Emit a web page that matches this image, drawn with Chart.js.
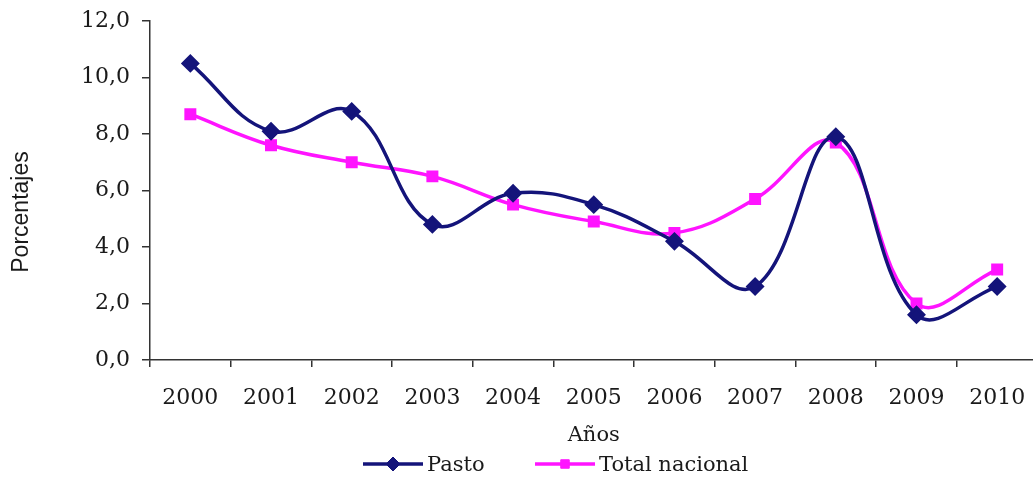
<!DOCTYPE html>
<html lang="es">
<head>
<meta charset="utf-8">
<title>Pasto vs Total nacional</title>
<script src="https://cdn.jsdelivr.net/npm/chart.js"></script>
<style>
  html, body { margin: 0; padding: 0; background: #fff; overflow: hidden; }
</style>
</head>
<body>
<canvas id="chart" width="1048" height="482" style="display:block;width:1048px;height:482px"></canvas>
<script>
const years = ['2000', '2001', '2002', '2003', '2004', '2005', '2006', '2007', '2008', '2009', '2010'];
const pasto = [10.5, 8.1, 8.8, 4.8, 5.9, 5.5, 4.2, 2.6, 7.9, 1.6, 2.6];
const totalNacional = [8.7, 7.6, 7.0, 6.5, 5.5, 4.9, 4.5, 5.7, 7.7, 2.0, 3.2];
const yTicks = [0, 2, 4, 6, 8, 10, 12];

const serif = "'DejaVu Serif', serif";
const axisColor = '#333';
const textColor = '#1a1a1a';

// legend drawn by hand: a short line with the marker in the middle, like Excel does
const excelLegend = {
  id: 'excelLegend',
  afterDraw(chart) {
    const ctx = chart.ctx;
    const items = [
      { ds: chart.data.datasets[0], x: 363, y: 464 },
      { ds: chart.data.datasets[1], x: 535, y: 464 }
    ];
    ctx.save();
    items.forEach(it => {
      const ds = it.ds;
      ctx.strokeStyle = ds.borderColor;
      ctx.lineWidth = ds.borderWidth;
      ctx.beginPath();
      ctx.moveTo(it.x, it.y);
      ctx.lineTo(it.x + 60, it.y);
      ctx.stroke();
      ctx.fillStyle = ds.pointBackgroundColor;
      ctx.strokeStyle = ds.pointBorderColor;
      ctx.lineWidth = 1;
      Chart.helpers.drawPoint(ctx, {
        pointStyle: ds.pointStyle,
        radius: ds.pointRadius,
        rotation: 0,
        borderWidth: 1
      }, it.x + 30, it.y);
      ctx.fillStyle = textColor;
      ctx.font = "21px " + serif;
      ctx.textBaseline = 'middle';
      ctx.textAlign = 'left';
      ctx.fillText(ds.label, it.x + 64, it.y + 2);
    });
    // y axis title, sits a little below the middle of the axis in the original
    ctx.translate(22, 212);
    ctx.rotate(-Math.PI / 2);
    ctx.font = "23px 'Liberation Sans', Arial, sans-serif";
    ctx.fillStyle = textColor;
    ctx.textAlign = 'center';
    ctx.textBaseline = 'middle';
    ctx.fillText('Porcentajes', 0, 0);
    ctx.restore();
  }
};

const data = {
  labels: years,
  datasets: [{
    label: 'Pasto',
    data: pasto,
    borderColor: '#14147a',
    backgroundColor: '#14147a',
    pointBackgroundColor: '#14147a',
    pointBorderColor: '#14147a',
    borderWidth: 3.5,
    pointStyle: 'rectRot',
    pointRadius: 7,
    pointHoverRadius: 7,
    tension: 0.4
  }, {
    label: 'Total nacional',
    data: totalNacional,
    borderColor: '#ff14ff',
    backgroundColor: '#ff14ff',
    pointBackgroundColor: '#ff14ff',
    pointBorderColor: '#ff14ff',
    borderWidth: 3.5,
    pointStyle: 'rect',
    pointRadius: 6,
    pointHoverRadius: 6,
    tension: 0.4
  }]
};

const options = {
  responsive: false,
  animation: false,
  layout: { padding: { top: 21, right: 0, bottom: 30, left: 0 } },
  plugins: {
    legend: { display: false },
    tooltip: { enabled: false }
  },
  scales: {
    x: {
      offset: true,
      afterFit(scale) { scale.height = 92; },
      grid: { offset: true, drawOnChartArea: false, drawTicks: true, tickLength: 7, color: axisColor, lineWidth: 1.5 },
      border: { display: true, color: axisColor, width: 1.5 },
      ticks: { color: textColor, font: { family: serif, size: 22 }, padding: 18, maxRotation: 0 },
      title: { display: true, text: 'Años', color: textColor, font: { family: serif, size: 21 }, padding: { top: 0, bottom: 4 } }
    },
    y: {
      min: 0,
      max: 12,
      afterFit(scale) { scale.width = 150; },
      afterBuildTicks(scale) { scale.ticks = yTicks.map(v => ({ value: v })); },
      grid: { drawOnChartArea: false, drawTicks: true, tickLength: 8, color: axisColor, lineWidth: 1.5 },
      border: { display: true, color: axisColor, width: 1.5 },
      ticks: {
        color: textColor,
        font: { family: serif, size: 22, lineHeight: 0.6 },
        padding: 12,
        callback: v => v.toFixed(1).replace('.', ',')
      }
    }
  }
};

new Chart(document.getElementById('chart'), {
  type: 'line',
  data,
  options,
  plugins: [excelLegend]
});
</script>
</body>
</html>
